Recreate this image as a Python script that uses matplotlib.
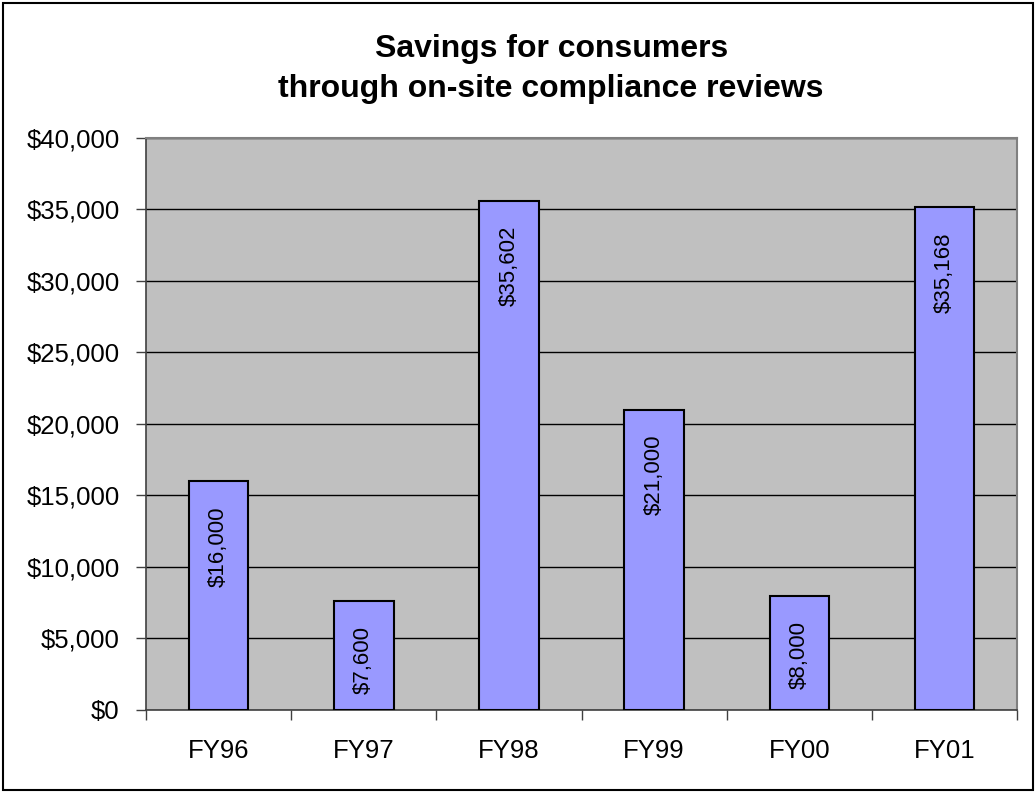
import numpy as np
import matplotlib.pyplot as plt
from matplotlib.patches import Rectangle

plt.rcParams['font.family'] = ['Liberation Sans', 'DejaVu Sans']

# data
years = ["FY96", "FY97", "FY98", "FY99", "FY00", "FY01"]
savings = [16000, 7600, 35602, 21000, 8000, 35168]
labels = ["$16,000", "$7,600", "$35,602", "$21,000", "$8,000", "$35,168"]

fig = plt.figure(figsize=(10.36, 7.93), dpi=100)
ax = fig.add_axes([0.1409, 0.1047, 0.8408, 0.7213])
ax.set_facecolor("#C0C0C0")

x = np.arange(len(years))
ax.bar(x, savings, 0.41, color="#9999FF", edgecolor="black", linewidth=1.5, zorder=3)

for xi, v, lab in zip(x, savings, labels):
    ax.annotate(lab, (xi, v), xytext=(0, -18), textcoords="offset points",
                rotation=90, ha="center", va="top", fontsize=16, zorder=4)

ax.set_xlim(-0.5, len(years) - 0.5)
ax.set_ylim(0, 40000)
ax.set_yticks(np.arange(0, 40001, 5000))
ax.set_yticklabels(["$" + format(t, ",") for t in range(0, 40001, 5000)], fontsize=18.5)
ax.yaxis.grid(True, color="black", linewidth=1)
ax.set_axisbelow(True)

ax.set_xticks(x)
ax.set_xticklabels(years, fontsize=18.5)
ax.set_xticks(np.arange(-0.5, len(years), 1), minor=True)
ax.tick_params(axis="x", which="major", length=0, pad=21)
ax.tick_params(axis="x", which="minor", length=7, width=1, color="#404040")
ax.tick_params(axis="y", length=7, width=1, color="#404040", pad=12)

for s in ["left", "bottom"]:
    ax.spines[s].set_color("#404040")
    ax.spines[s].set_linewidth(1.2)
for s in ["top", "right"]:
    ax.spines[s].set_color("#808080")
    ax.spines[s].set_linewidth(1.5)

fig.suptitle("Savings for consumers\nthrough on-site compliance reviews",
             fontsize=23, fontweight="bold", x=0.532, y=0.957, linespacing=1.45)

fig.patches.append(Rectangle((0.003, 0.004), 0.994, 0.992, transform=fig.transFigure,
                             fill=False, edgecolor="black", linewidth=1.5))

fig.savefig("out.png", dpi=100)
